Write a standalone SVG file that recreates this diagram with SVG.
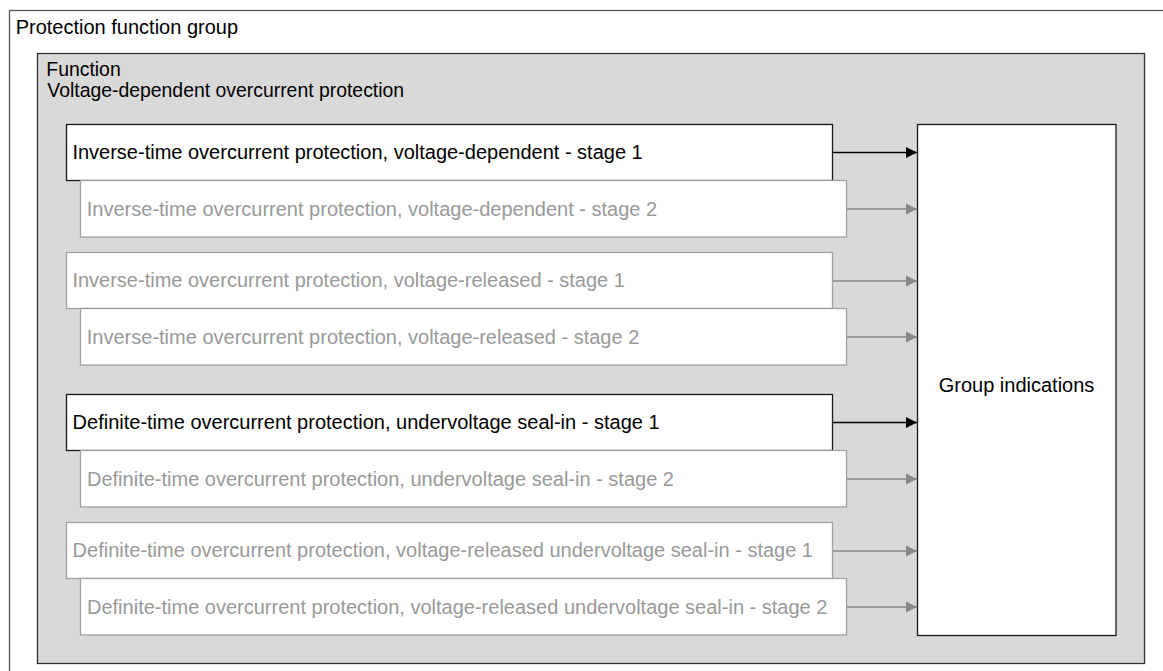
<svg xmlns="http://www.w3.org/2000/svg" width="1163" height="671" viewBox="0 0 1163 671">
<style>
text{font-family:"Liberation Sans",Arial,sans-serif;}
.t{font-size:20px;fill:#000;}
.h{font-size:19.4px;fill:#000;}
.g{font-size:20px;fill:#999;}
.bk{fill:#fff;stroke:#1a1a1a;stroke-width:1.3;}
.bg{fill:#fff;stroke:#a0a0a0;stroke-width:1.3;}
.ck{stroke:#000;stroke-width:1.3;fill:none;}
.cg{stroke:#888;stroke-width:1.3;fill:none;}
</style>
<defs>
<marker id="ak" markerUnits="userSpaceOnUse" markerWidth="12" markerHeight="12" refX="11" refY="6" orient="auto"><path d="M0,0.5 L11,6 L0,11.5 Z" fill="#000"/></marker>
<marker id="ag" markerUnits="userSpaceOnUse" markerWidth="12" markerHeight="12" refX="11" refY="6" orient="auto"><path d="M0,0.5 L11,6 L0,11.5 Z" fill="#888"/></marker>
</defs>
<g id="protection-function-group">
<rect x="9.5" y="10.5" width="1170" height="680" fill="#fff" stroke="#555" stroke-width="1.3"/>
<text class="t" x="15.7" y="33.5">Protection function group</text>
</g>
<g id="function">
<rect x="37.5" y="53.5" width="1107" height="610" fill="#d9d9d9" stroke="#333" stroke-width="1.3"/>
<text class="h" x="46.3" y="76">Function</text>
<text class="h" x="47.3" y="97">Voltage-dependent overcurrent protection</text>
</g>
<g id="connectors">
<line class="ck" x1="833" y1="152.5" x2="917" y2="152.5" marker-end="url(#ak)"/>
<line class="cg" x1="847" y1="209" x2="917" y2="209" marker-end="url(#ag)"/>
<line class="cg" x1="833" y1="281" x2="917" y2="281" marker-end="url(#ag)"/>
<line class="cg" x1="847" y1="337" x2="917" y2="337" marker-end="url(#ag)"/>
<line class="ck" x1="833" y1="422.5" x2="917" y2="422.5" marker-end="url(#ak)"/>
<line class="cg" x1="847" y1="479" x2="917" y2="479" marker-end="url(#ag)"/>
<line class="cg" x1="833" y1="551" x2="917" y2="551" marker-end="url(#ag)"/>
<line class="cg" x1="847" y1="607" x2="917" y2="607" marker-end="url(#ag)"/>
</g>
<g id="inv-vdep-1">
<rect class="bk" x="66.5" y="124.5" width="766" height="56"/>
<text class="t" x="72.4" y="159">Inverse-time overcurrent protection, voltage-dependent - stage 1</text>
</g>
<g id="inv-vdep-2">
<rect class="bg" x="80.5" y="180.5" width="766" height="56.5"/>
<text class="g" x="86.8" y="215.5">Inverse-time overcurrent protection, voltage-dependent - stage 2</text>
</g>
<g id="inv-vrel-1">
<rect class="bg" x="66.5" y="252.5" width="766" height="56"/>
<text class="g" x="72.4" y="287">Inverse-time overcurrent protection, voltage-released - stage 1</text>
</g>
<g id="inv-vrel-2">
<rect class="bg" x="80.5" y="308.5" width="766" height="56.5"/>
<text class="g" x="86.8" y="343.5">Inverse-time overcurrent protection, voltage-released - stage 2</text>
</g>
<g id="def-uv-1">
<rect class="bk" x="66.5" y="394.5" width="766" height="56"/>
<text class="t" x="72.6" y="429">Definite-time overcurrent protection, undervoltage seal-in - stage 1</text>
</g>
<g id="def-uv-2">
<rect class="bg" x="80.5" y="450.5" width="766" height="56.5"/>
<text class="g" x="87" y="485.5">Definite-time overcurrent protection, undervoltage seal-in - stage 2</text>
</g>
<g id="def-vrel-uv-1">
<rect class="bg" x="66.5" y="522.5" width="766" height="56"/>
<text class="g" x="72.6" y="557">Definite-time overcurrent protection, voltage-released undervoltage seal-in - stage 1</text>
</g>
<g id="def-vrel-uv-2">
<rect class="bg" x="80.5" y="578.5" width="766" height="56.5"/>
<text class="g" x="87" y="613.5">Definite-time overcurrent protection, voltage-released undervoltage seal-in - stage 2</text>
</g>
<g id="group-indications">
<rect class="bk" x="917.5" y="124.5" width="198.5" height="511"/>
<text class="t" x="1016.5" y="392" text-anchor="middle">Group indications</text>
</g>
</svg>
